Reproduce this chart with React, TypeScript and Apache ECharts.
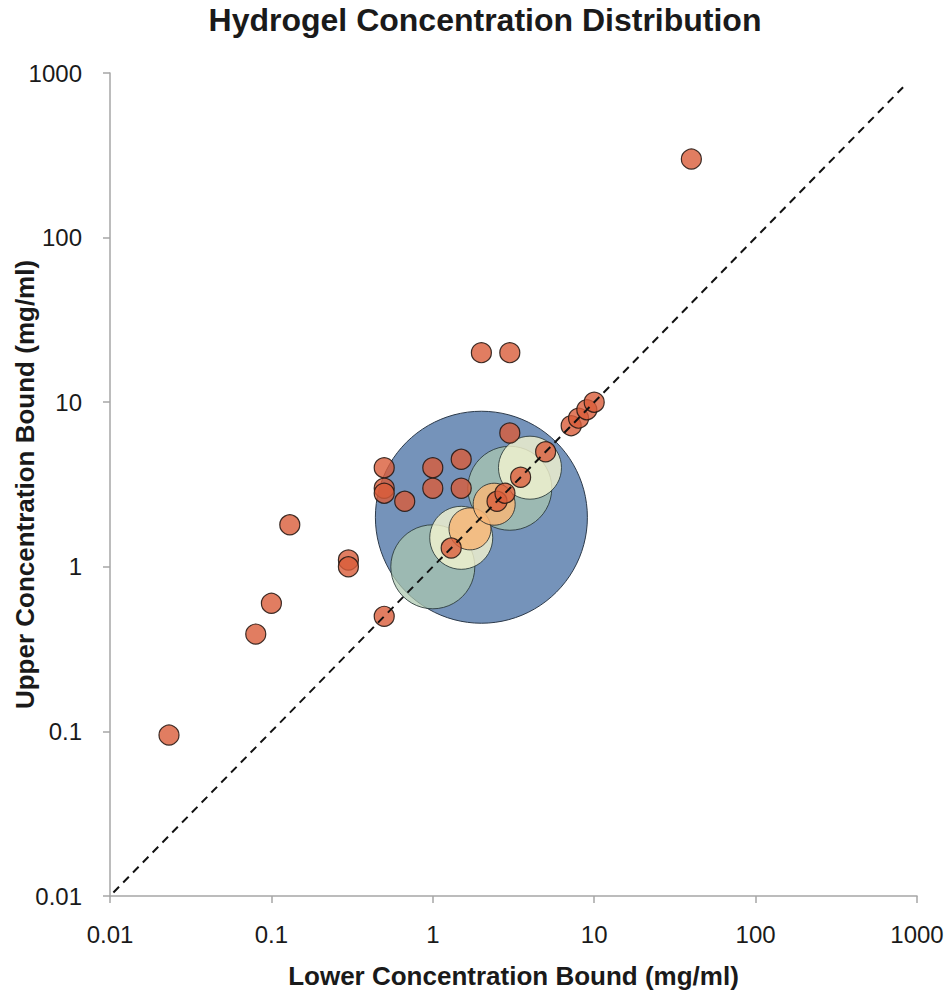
import React, { useEffect, useRef } from "react";
import * as echarts from "echarts";

const titleText = "Hydrogel Concentration Distribution";
const xAxisName = "Lower Concentration Bound (mg/ml)";
const yAxisName = "Upper Concentration Bound (mg/ml)";
const tickLabels = ["0.01", "0.1", "1", "10", "100", "1000"];

// large summary bubble
const blueX = [2];
const blueY = [2];
// teal bubbles
const tealX = [1, 3];
const tealY = [1, 3];
// pale yellow bubbles
const paleX = [1.5, 4];
const paleY = [1.5, 4];
// orange bubbles
const orangeX = [1.7, 2.4];
const orangeY = [1.7, 2.4];
// individual studies (red)
const redX = [40, 0.0232, 0.08, 0.1, 0.13, 0.3, 0.3, 0.5, 0.5, 0.5, 0.5, 0.67, 1, 1, 1.5, 1.5, 2, 3, 3, 1.3, 2.5, 2.8, 3.5, 5, 7.2, 8, 9, 10];
const redY = [300, 0.095, 0.39, 0.6, 1.8, 1.1, 1.0, 0.5, 4, 3, 2.8, 2.5, 4, 3, 4.5, 3, 20, 20, 6.5, 1.3, 2.5, 2.8, 3.5, 5, 7.2, 8, 9, 10];
// identity line y = x
const lineX = [0.0105, 820];
const lineY = [0.0105, 820];

const zip = (xs: number[], ys: number[]) => xs.map((x, i) => [x, ys[i]]);

const FONT = "'Liberation Sans', Arial, sans-serif";

const fmt = (v: number) => {
  const f = tickLabels.find((l) => Math.abs(Math.log10(parseFloat(l)) - Math.log10(v)) < 1e-6);
  return f ?? "";
};

const axisCommon = {
  type: "log" as const,
  logBase: 10,
  min: 0.01,
  max: 1000,
  splitNumber: 5,
  axisLine: { show: true, lineStyle: { color: "#a6a6a6", width: 1.5 } },
  axisTick: { show: true, inside: false, length: 7, lineStyle: { color: "#a6a6a6", width: 1.5 } },
  splitLine: { show: false },
  minorTick: { show: false },
  nameLocation: "middle" as const,
  nameMoveOverlap: false,
  nameTextStyle: { fontSize: 26, fontWeight: "bold" as const, color: "#1a1a1a", fontFamily: FONT },
};

export default function App() {
  const ref = useRef<HTMLDivElement>(null);
  useEffect(() => {
    if (!ref.current) return;
    const chart = echarts.init(ref.current, undefined, { renderer: "svg" });
    chart.setOption({
      animation: false,
      backgroundColor: "#ffffff",
      title: {
        text: titleText,
        left: 480,
        top: -1,
        textAlign: "center",
        textStyle: { fontSize: 32, fontWeight: "bold", color: "#1a1a1a", fontFamily: FONT },
      },
      grid: { left: 110, right: 32, top: 73, bottom: 95, containLabel: false, outerBoundsMode: "none" },
      xAxis: {
        ...axisCommon,
        name: xAxisName,
        nameGap: 67,
        axisLabel: { fontSize: 24, color: "#1a1a1a", margin: 26, fontFamily: FONT, formatter: fmt },
      },
      yAxis: {
        ...axisCommon,
        name: yAxisName,
        nameGap: 72,
        axisLabel: { fontSize: 24, color: "#1a1a1a", margin: 28, fontFamily: FONT, formatter: fmt },
      },
      series: [
        {
          type: "scatter",
          data: zip(blueX, blueY),
          symbolSize: 212,
          itemStyle: { color: "#7593ba", borderColor: "#2c3a4a", borderWidth: 1, opacity: 1 },
          z: 1,
        },
        {
          type: "scatter",
          data: zip(tealX, tealY),
          symbolSize: 84,
          itemStyle: { color: "rgba(172,200,174,0.72)", borderColor: "rgba(40,55,55,0.85)", borderWidth: 1, opacity: 1 },
          z: 2,
        },
        {
          type: "scatter",
          data: zip(paleX, paleY),
          symbolSize: 63,
          itemStyle: { color: "rgba(245,245,208,0.8)", borderColor: "rgba(40,55,55,0.85)", borderWidth: 1, opacity: 1 },
          z: 3,
        },
        {
          type: "scatter",
          data: zip(orangeX, orangeY),
          symbolSize: 42,
          itemStyle: { color: "rgba(246,182,120,0.85)", borderColor: "rgba(40,45,45,0.85)", borderWidth: 1, opacity: 1 },
          z: 4,
        },
        {
          type: "scatter",
          data: zip(redX, redY),
          symbolSize: 20,
          itemStyle: { color: "rgba(218,92,58,0.8)", borderColor: "rgba(40,25,20,0.9)", borderWidth: 1.2, opacity: 1 },
          z: 5,
        },
        {
          type: "line",
          data: zip(lineX, lineY),
          showSymbol: false,
          symbol: "none",
          lineStyle: { color: "#111111", width: 2, type: [8, 6] },
          z: 6,
        },
      ],
    });
    return () => chart.dispose();
  }, []);
  return (
    <div
      ref={ref}
      style={{ position: "absolute", left: 0, top: 0, width: 949, height: 991 }}
    />
  );
}
